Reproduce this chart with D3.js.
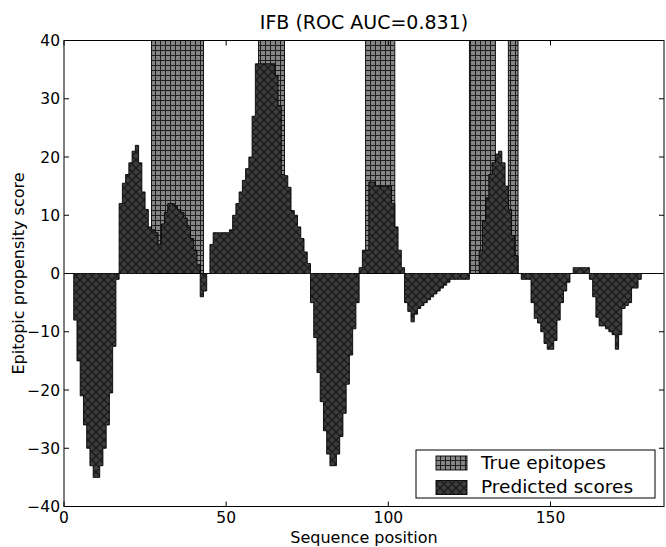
<!DOCTYPE html>
<html><head><meta charset="utf-8">
<script src="https://cdn.jsdelivr.net/npm/d3@7"></script>
<style>body{margin:0;background:#fff;} svg{display:block;font-family:"DejaVu Sans",sans-serif;}</style>
</head><body><svg id="c" width="666" height="547"></svg>
<script>
const title = "IFB (ROC AUC=0.831)";
const xLabel = "Sequence position";
const yLabel = "Epitopic propensity score";
const xTicks = [0, 50, 100, 150];
const yTicks = [-40, -30, -20, -10, 0, 10, 20, 30, 40];
const xDomain = [0, 185];
const yDomain = [-40, 40];
const legendLabels = ["True epitopes", "Predicted scores"];
// predicted score at each sequence position (index = position)
const scores = [
  0, 0, 0,
  -8, -15, -21, -26, -30, -33, -35, -35, -33, -30, -26, -20.5, -12.5, -1,
  12, 15.5, 17, 19, 21, 22, 19, 14, 11, 8, 7.5, 7, 5, 8.5, 10.5, 12, 12, 11.5, 11, 10.5, 9.5, 8, 6, 4, 1.5,
  -4, -3, 0,
  5, 7, 7, 7, 7, 7, 7.5, 10, 12, 14, 16, 18, 20,
  27, 36, 36, 36, 36, 36, 36, 34,
  28.8, 17, 16.8, 14.8, 10.8, 10, 8, 6, 3.7, 1.7,
  -5, -11, -17, -22, -27, -31, -33, -33, -31, -28, -24, -19, -14, -9.5, -5,
  1, 4, 4, 15.7, 15.7, 15, 15, 15, 15, 15, 12, 8, 4, 1,
  -5, -6.5, -8.3, -7, -6, -5.5, -5, -4.5, -4, -3.5, -3, -2.5, -2, -1.5, -1, -1, -1, -1, -1, -1,
  0, 0, 0, 4, 9, 13, 17, 19, 20.5, 21, 19, 15, 11, 6.5, 3,
  0,
  -1, -1, -1, -5, -7.7, -8.5, -10, -12, -13, -13, -11.5, -8, -5, -3, -1.5,
  0,
  1, 1, 1, 1, 1,
  -1, -4, -7.5, -9, -9, -9.5, -10, -10.5, -13, -10.5, -6, -5.5, -5, -2.5, -2.5, -1,
  0, 0, 0, 0, 0, 0, 0
];
// true epitope segments [start, end) in sequence positions
const epitopeSegments = [[27, 43], [60, 68], [93, 102], [125, 133], [137, 140]];
const epitopeTop = 40;

const svg = d3.select("#c");
const L = 64, R = 664, T = 40.5, B = 506.5;
const x = d3.scaleLinear().domain(xDomain).range([L, R]);
const y = d3.scaleLinear().domain(yDomain).range([B, T]);

const defs = svg.append("defs");
const pg = defs.append("pattern").attr("id", "grid").attr("patternUnits", "userSpaceOnUse")
  .attr("width", 5).attr("height", 5);
pg.append("rect").attr("width", 5).attr("height", 5).attr("fill", "#858585");
pg.append("path").attr("d", "M0,0.5H5M0.5,0V5").attr("stroke", "#1e1e1e").attr("stroke-width", 1);
const px = defs.append("pattern").attr("id", "xh").attr("patternUnits", "userSpaceOnUse")
  .attr("width", 8).attr("height", 8);
px.append("rect").attr("width", 8).attr("height", 8).attr("fill", "#3c3c3c");
px.append("path").attr("d", "M0,0L8,8M8,0L0,8M-1,7L1,9M7,-1L9,1M-1,1L1,-1M7,9L9,7")
  .attr("stroke", "#121212").attr("stroke-width", 1.1);
defs.append("clipPath").attr("id", "clip").append("rect")
  .attr("x", L).attr("y", T).attr("width", R - L).attr("height", B - T);

const g = svg.append("g").attr("clip-path", "url(#clip)");

// true epitopes
g.selectAll("rect.ep").data(epitopeSegments).join("rect").attr("class", "ep")
  .attr("x", d => x(d[0])).attr("width", d => x(d[1]) - x(d[0]))
  .attr("y", y(epitopeTop)).attr("height", y(0) - y(epitopeTop))
  .attr("fill", "url(#grid)").attr("stroke", "#000").attr("stroke-width", 0.9);

// predicted scores as step bars
const pts = scores.map((v, i) => ({ i, v }));
pts.push({ i: scores.length, v: scores[scores.length - 1] });
const area = d3.area().x(d => x(d.i)).y0(y(0)).y1(d => y(d.v)).curve(d3.curveStepAfter);
g.append("path").datum(pts).attr("d", area)
  .attr("fill", "url(#xh)").attr("stroke", "#000").attr("stroke-width", 0.9);

// frame
svg.append("rect").attr("x", L).attr("y", T).attr("width", R - L).attr("height", B - T)
  .attr("fill", "none").attr("stroke", "#000").attr("stroke-width", 1);

// ticks (inward, all sides)
const tl = 5;
const tk = svg.append("g").attr("stroke", "#000").attr("stroke-width", 1);
xTicks.forEach(t => {
  tk.append("line").attr("x1", x(t)).attr("x2", x(t)).attr("y1", B).attr("y2", B - tl);
  tk.append("line").attr("x1", x(t)).attr("x2", x(t)).attr("y1", T).attr("y2", T + tl);
});
yTicks.forEach(t => {
  tk.append("line").attr("x1", L).attr("x2", L + tl).attr("y1", y(t)).attr("y2", y(t));
  tk.append("line").attr("x1", R).attr("x2", R - tl).attr("y1", y(t)).attr("y2", y(t));
});
const fmt = v => (v < 0 ? "\u2212" + Math.abs(v) : String(v));
svg.append("g").selectAll("text").data(xTicks).join("text")
  .attr("x", d => x(d)).attr("y", B + 16.5).attr("text-anchor", "middle")
  .attr("font-size", 15.5).attr("fill", "#000").text(fmt);
svg.append("g").selectAll("text").data(yTicks).join("text")
  .attr("x", L - 4).attr("y", d => y(d)).attr("dy", "0.36em").attr("text-anchor", "end")
  .attr("font-size", 15.5).attr("fill", "#000").text(fmt);

svg.append("text").attr("x", (L + R) / 2).attr("y", 542.5).attr("text-anchor", "middle")
  .attr("font-size", 16).text(xLabel);
svg.append("text").attr("transform", `translate(24,${(T + B) / 2}) rotate(-90)`)
  .attr("text-anchor", "middle").attr("font-size", 16).text(yLabel);
svg.append("text").attr("x", (L + R) / 2).attr("y", 29).attr("text-anchor", "middle")
  .attr("font-size", 19).text(title);

// legend
const lg = svg.append("g");
lg.append("rect").attr("x", 416).attr("y", 450).attr("width", 239).attr("height", 48)
  .attr("fill", "#fff").attr("stroke", "#000").attr("stroke-width", 1);
const fills = ["url(#grid)", "url(#xh)"];
legendLabels.forEach((lab, k) => {
  const yy = 456 + k * 24.5;
  lg.append("rect").attr("x", 436).attr("y", yy).attr("width", 31).attr("height", 14)
    .attr("fill", fills[k]).attr("stroke", "#000").attr("stroke-width", 0.9);
  lg.append("text").attr("x", 481).attr("y", yy + 12.5).attr("font-size", 18.5).text(lab);
});
</script></body></html>
